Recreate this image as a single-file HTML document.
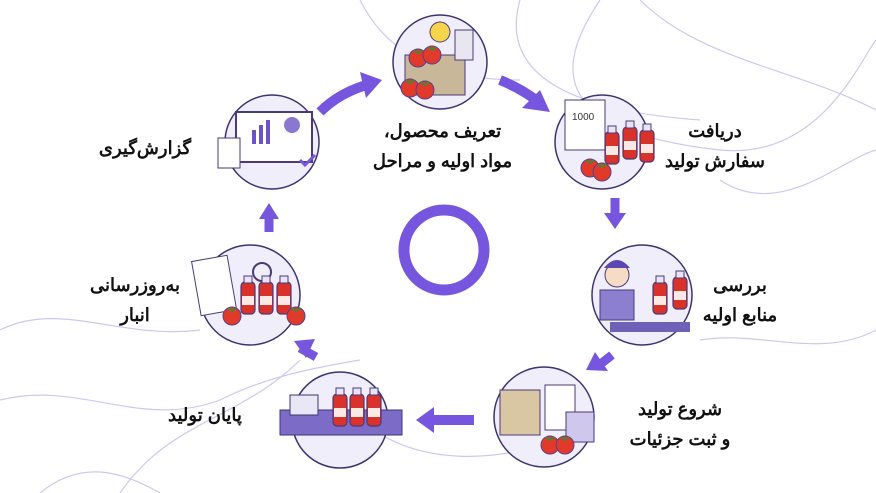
<!DOCTYPE html>
<html><head><meta charset="utf-8"><style>
body{margin:0;width:876px;height:493px;background:#fff;overflow:hidden;position:relative;font-family:"Liberation Sans","Noto Sans CJK SC",sans-serif}
.t{position:absolute;font-weight:bold;font-size:18px;color:#111;direction:rtl;text-align:center;line-height:30px;white-space:nowrap}
</style></head><body>
<svg width="876" height="493" style="position:absolute;left:0;top:0">
<defs>
<g id="tom"><circle r="9" fill="#e23a2a" stroke="#5a3f8a" stroke-width="1"/><path d="M-4 -8 L0 -5 L4 -8" stroke="#3c8a3a" stroke-width="2" fill="none"/></g>
<g id="bot"><rect x="-7" y="-18" width="14" height="32" rx="4" fill="#d8322a" stroke="#4b3a7a" stroke-width="1.2"/><rect x="-4" y="-24" width="8" height="7" fill="#e9e4f5" stroke="#4b3a7a"/><rect x="-6" y="-4" width="12" height="9" fill="#fbe9e6"/></g>
</defs>
<g fill="none" stroke="#cfc8ec" stroke-width="1.2">
<path d="M600 0 C560 60 540 130 720 150 C820 160 860 60 876 40"/>
<path d="M640 0 C700 60 800 70 876 110"/>
<path d="M520 0 C500 70 560 110 700 120"/>
<path d="M720 180 C780 220 840 160 876 150"/>
<path d="M0 330 C60 300 120 340 200 330"/>
<path d="M0 400 C80 380 140 430 220 400 C260 380 300 370 360 360"/>
<path d="M120 493 C170 420 240 420 300 360"/>
<path d="M360 420 C420 470 500 460 560 440"/>
<path d="M40 493 C80 460 120 470 160 493"/>
<path d="M700 340 C760 330 820 360 876 330"/>
<path d="M360 0 C380 40 420 80 520 80"/>
</g>
<circle cx="444" cy="250" r="40" fill="none" stroke="#7656df" stroke-width="11"/>
<g fill="#7656df" stroke="#7656df">
<path d="M320 112 Q340 92 370 84" stroke-width="10" fill="none"/><polygon points="382,80 360,72 366,98" stroke="none"/>
<path d="M500 80 Q520 88 536 100" stroke-width="10" fill="none"/><polygon points="550,112 522,108 540,90" stroke="none"/>
<path d="M615 198 L615 216" stroke-width="9" fill="none"/><polygon points="604,213 626,213 615,229" stroke="none"/>
<path d="M612 355 L598 366" stroke-width="9" fill="none"/><polygon points="586,370 595,352 608,371" stroke="none"/>
<path d="M474 420 L432 420" stroke-width="10" fill="none"/><polygon points="416,420 434,407 434,433" stroke="none"/>
<path d="M316 357 L300 348" stroke-width="9" fill="none"/><polygon points="294,341 315,339 306,358" stroke="none"/>
<path d="M269 232 L269 216" stroke-width="9" fill="none"/><polygon points="259,219 279,219 269,203" stroke="none"/>
</g>
<g fill="#f1eefb" stroke="#3e3370" stroke-width="1.5">
<circle cx="440" cy="62" r="47"/><circle cx="272" cy="142" r="47"/><circle cx="602" cy="142" r="47"/>
<circle cx="642" cy="295" r="50"/><circle cx="544" cy="417" r="50"/><circle cx="340" cy="420" r="48"/><circle cx="250" cy="295" r="50"/>
</g>
<rect x="405" y="55" width="60" height="40" fill="#c9b79a" stroke="#4b3a7a"/><circle cx="440" cy="32" r="10" fill="#f5d54a" stroke="#4b3a7a"/>
<rect x="455" y="30" width="18" height="30" fill="#e8e6ef" stroke="#4b3a7a"/>
<use href="#tom" x="418" y="58"/><use href="#tom" x="432" y="55"/><use href="#tom" x="410" y="88"/><use href="#tom" x="425" y="90"/>
<rect x="236" y="112" width="76" height="50" fill="#fff" stroke="#4b3a7a" stroke-width="2"/>
<rect x="252" y="130" width="4" height="14" fill="#6a54c8"/><rect x="259" y="125" width="4" height="19" fill="#6a54c8"/><rect x="266" y="120" width="4" height="24" fill="#6a54c8"/>
<circle cx="292" cy="125" r="8" fill="#8a78d0"/><rect x="218" y="138" width="22" height="30" fill="#fff" stroke="#4b3a7a"/><path d="M300 160 l5 5 l10 -10" stroke="#7656df" stroke-width="3" fill="none"/>
<rect x="565" y="100" width="40" height="50" fill="#fff" stroke="#4b3a7a"/><text x="572" y="120" font-size="10" fill="#333">1000</text>
<use href="#bot" x="612" y="150"/><use href="#bot" x="630" y="145"/><use href="#bot" x="647" y="148"/><use href="#tom" x="590" y="168"/><use href="#tom" x="602" y="172"/>
<circle cx="617" cy="275" r="12" fill="#f7dcc5" stroke="#4b3a7a"/><path d="M604 268 Q617 252 630 268 Z" fill="#5a48b0"/>
<rect x="600" y="290" width="34" height="30" fill="#8d7fd0" stroke="#4b3a7a"/>
<use href="#bot" x="660" y="300"/><use href="#bot" x="680" y="295"/><rect x="610" y="322" width="80" height="10" fill="#6f60b8"/>
<rect x="500" y="390" width="40" height="45" fill="#d9c7a4" stroke="#4b3a7a"/><rect x="545" y="385" width="30" height="45" fill="#fff" stroke="#4b3a7a"/>
<rect x="566" y="412" width="28" height="30" fill="#cfc8ec" stroke="#4b3a7a"/><use href="#tom" x="550" y="445"/><use href="#tom" x="565" y="445"/>
<rect x="280" y="410" width="122" height="25" fill="#7c6cc8" stroke="#3e3370"/><use href="#bot" x="340" y="412"/><use href="#bot" x="357" y="412"/><use href="#bot" x="374" y="412"/>
<rect x="290" y="395" width="28" height="20" fill="#e9e6f5" stroke="#3e3370"/>
<rect x="196" y="258" width="36" height="55" fill="#fff" stroke="#4b3a7a" transform="rotate(-10 214 285)"/>
<circle cx="262" cy="272" r="9" fill="none" stroke="#4b3a7a" stroke-width="2"/>
<use href="#bot" x="248" y="300"/><use href="#bot" x="266" y="300"/><use href="#bot" x="284" y="300"/><use href="#tom" x="232" y="316"/><use href="#tom" x="296" y="316"/>
</svg>
<div class="t" style="left:360px;top:116px;width:165px">تعریف محصول،<br>مواد اولیه و مراحل</div>
<div class="t" style="left:665px;top:116px;width:100px">دریافت<br>سفارش تولید</div>
<div class="t" style="left:700px;top:270px;width:80px">بررسی<br>منابع اولیه</div>
<div class="t" style="left:615px;top:394px;width:130px">شروع تولید<br>و ثبت جزئیات</div>
<div class="t" style="left:150px;top:400px;width:110px">پایان تولید</div>
<div class="t" style="left:80px;top:270px;width:110px">به‌روزرسانی<br>انبار</div>
<div class="t" style="left:80px;top:133px;width:130px">گزارش‌گیری</div>
</body></html>
